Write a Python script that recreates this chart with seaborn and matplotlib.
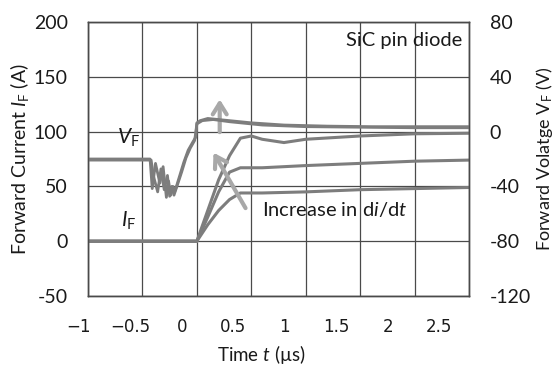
import matplotlib
matplotlib.use("Agg")
import matplotlib.pyplot as plt
import matplotlib.transforms as mtransforms
from matplotlib.ticker import NullFormatter
import seaborn as sns
import pandas as pd

# ---- data ----
# Forward current traces (A), three di/dt values
t_if_low = [-1.0, 0.0, 0.1, 0.2, 0.3, 0.4, 0.6, 1.0, 1.5, 2.0, 2.5]
if_low = [0, 0, 15, 28, 38, 44, 44, 45, 47, 48, 49]
t_if_mid = [-1.0, 0.0, 0.1, 0.2, 0.3, 0.4, 0.6, 1.0, 1.5, 2.0, 2.5]
if_mid = [0, 0, 22, 45, 63, 67, 67, 69, 71, 73, 74]
t_if_fast = [-1.0, 0.0, 0.1, 0.2, 0.3, 0.4, 0.5, 0.6, 0.8, 1.0, 1.5, 2.0, 2.5]
if_fast = [0, 0, 28, 56, 78, 94, 96, 93, 90, 93, 96, 98, 98.5]

# Forward voltage traces (V)
t_vf_a = [-1.0, -0.43, -0.41, -0.38, -0.34, -0.31, -0.28, -0.26, -0.24, -0.22,
          -0.20, -0.16, -0.12, -0.08, -0.04, -0.01, 0.0, 0.03, 0.1, 0.2, 0.3,
          0.5, 0.8, 1.2, 1.6, 2.0, 2.5]
vf_a = [-20, -20, -41.6, -23.2, -37.6, -25.6, -48, -36, -46.4, -40, -43.2,
        -32.8, -22.4, -13.6, -8, -4, 6.4, 8, 9.6, 8.8, 8, 6.4, 4.8, 4, 3.6, 3.6, 3.6]
t_vf_b = [-1.0, -0.42, -0.40, -0.36, -0.33, -0.30, -0.27, -0.25, -0.23, -0.21,
          -0.18, -0.14, -0.10, -0.06, -0.02, 0.0, 0.05, 0.15, 0.3, 0.6, 1.0,
          1.5, 2.0, 2.5]
vf_b = [-20.8, -20.8, -32, -44, -27.2, -42.4, -32, -47.2, -40, -46.4, -39.2,
        -29.6, -19.2, -12, -6.4, 5.6, 8, 8.8, 7.2, 4.8, 3.6, 3.2, 2.8, 2.8]

x_ticks = [-1, -0.5, 0, 0.5, 1, 1.5, 2, 2.5]
x_tick_labels = ["\u22121", "\u22120.5", "0", "0.5", "1", "1.5", "2", "2.5"]
left_ticks = [-50, 0, 50, 100, 150, 200]
right_ticks = [-120, -80, -40, 0, 40, 80]

# ---- style ----
sns.set_style("white")
plt.rcParams["font.family"] = ["Lato", "DejaVu Sans"]
plt.rcParams["mathtext.fontset"] = "custom"
plt.rcParams["mathtext.rm"] = "Lato"
plt.rcParams["mathtext.it"] = "Lato:italic"

curve_c = "#7d7d7d"
arrow_c = "#a8a8a8"
grid_c = "#4a4a4a"
text_c = "#1a1a1a"

W, H = 557, 365
L, R, T, B = 88, 469, 22, 296
fig = plt.figure(figsize=(W / 100, H / 100), dpi=100)
ax = fig.add_axes([L / W, (H - B) / H, (R - L) / W, (B - T) / H])
ax2 = ax.twinx()

def df(t, v):
    return pd.DataFrame({"t": t, "v": v})

for t, v in [(t_if_low, if_low), (t_if_mid, if_mid), (t_if_fast, if_fast)]:
    sns.lineplot(data=df(t, v), x="t", y="v", ax=ax, color=curve_c, lw=2.2,
                 estimator=None, sort=False)
for t, v in [(t_vf_a, vf_a), (t_vf_b, vf_b)]:
    sns.lineplot(data=df(t, v), x="t", y="v", ax=ax2, color=curve_c, lw=2.0,
                 estimator=None, sort=False)

ax.set_xticks(x_ticks)
ax.xaxis.set_major_formatter(NullFormatter())
ax.tick_params(axis="x", length=0)
ax.set_xlim(-1, 2.5)

# x tick labels sit on a slightly compressed scale in the reference
label_scale = 0.945
label_shift = -0.083
blend = mtransforms.blended_transform_factory(ax.transData, ax.transAxes)
for x, lab in zip(x_ticks, x_tick_labels):
    ax.text(label_shift + (x + 1) * label_scale - 1, -(318 - B) / (B - T), lab,
            transform=blend, ha="center", va="top", fontfamily="DejaVu Sans",
            fontsize=12, color=text_c, clip_on=False)

ax.set_yticks(left_ticks)
ax.set_yticklabels([str(v) for v in left_ticks], fontsize=14, color=text_c)
ax2.set_yticks(right_ticks)
ax2.set_yticklabels([str(v) for v in right_ticks], fontsize=14, color=text_c)
ax.set_ylim(-50, 200)
ax2.set_ylim(-120, 80)
ax.tick_params(axis="y", length=0, pad=14.5)
ax2.tick_params(axis="y", length=0, pad=15)

ax.grid(True, which="major", color=grid_c, lw=0.9)
ax2.grid(False)
for a in (ax, ax2):
    for s in a.spines.values():
        s.set_color(grid_c)
        s.set_linewidth(1.0)

ax.set_xlabel(r"Time $t$ (µs)", fontsize=13.5, color=text_c)
ax.xaxis.set_label_coords((261 - L) / (R - L), -(343 - B) / (B - T))
ax.set_ylabel(r"Forward Current $I_\mathrm{F}$ (A)", fontsize=14, color=text_c)
ax.yaxis.set_label_coords(-(L - 31) / (R - L), 0.5)
ax2.set_ylabel(r"Forward Volatge V$_\mathrm{F}$ (V)", fontsize=13, color=text_c,
               rotation=90)
ax2.yaxis.set_label_coords(1 + (534 - R) / (R - L), 0.5)

ax.text(2.44, 183.5, "SiC pin diode", ha="right", va="center", fontsize=14.5, color=text_c)
ax.text(-0.63, 94, r"$V_\mathrm{F}$", ha="center", va="center", fontsize=15, color=text_c)
ax.text(-0.63, 19, r"$I_\mathrm{F}$", ha="center", va="center", fontsize=15, color=text_c)
ax.text(0.6, 29, r"Increase in d$\mathit{i}$/d$\mathit{t}$", ha="left", va="center",
        fontsize=14.5, color=text_c)

arrow_kw = dict(arrowstyle="->,head_length=0.8,head_width=0.5", color=arrow_c, lw=3)
ax.annotate("", xy=(0.14, 83), xytext=(0.46, 28), arrowprops=arrow_kw)
ax.annotate("", xy=(0.21, 132), xytext=(0.21, 97), arrowprops=arrow_kw)

fig.savefig("out.png", dpi=100)
